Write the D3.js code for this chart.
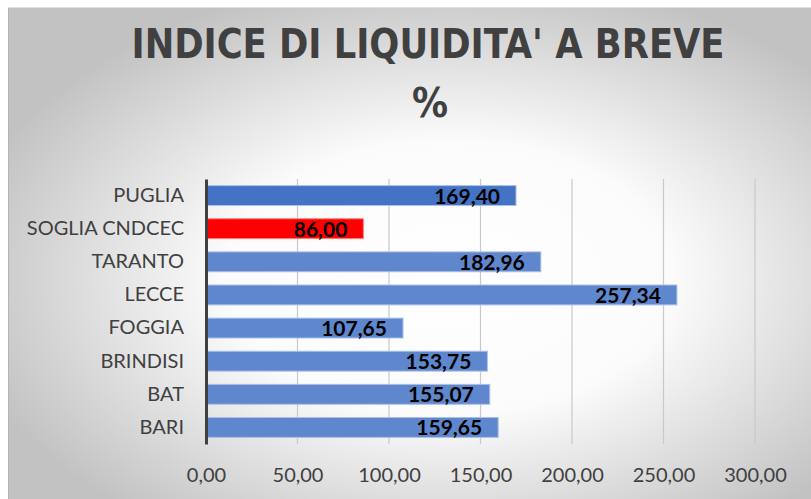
<!DOCTYPE html>
<html>
<head>
<meta charset="utf-8">
<script src="https://cdn.jsdelivr.net/npm/d3@7"></script>
<style>
  body { margin: 0; background: #fff; }
  svg { display: block; }
</style>
</head>
<body>
<svg></svg>
<script>
// data
var categories = ['PUGLIA', 'SOGLIA CNDCEC', 'TARANTO', 'LECCE', 'FOGGIA', 'BRINDISI', 'BAT', 'BARI'];
var values = [169.40, 86.00, 182.96, 257.34, 107.65, 153.75, 155.07, 159.65];
var tickValues = [0, 50, 100, 150, 200, 250, 300];
var titleLines = ["INDICE DI LIQUIDITA' A BREVE", '%'];

var width = 811;
var height = 499;
var svg = d3.select('svg').attr('width', width).attr('height', height);

var fmt = v => d3.format('.2f')(v).replace('.', ',');

// background gradient
var grad = svg.append('defs').append('radialGradient')
    .attr('id', 'bg')
    .attr('cx', '55%').attr('cy', '55%').attr('r', '62%');
grad.append('stop').attr('offset', '0%').attr('stop-color', '#ffffff');
grad.append('stop').attr('offset', '45%').attr('stop-color', '#fbfbfb');
grad.append('stop').attr('offset', '100%').attr('stop-color', '#c2c2c2');

svg.append('rect')
    .attr('x', 8).attr('y', 7)
    .attr('width', width - 8).attr('height', height - 7)
    .attr('fill', 'url(#bg)');
svg.append('line')
    .attr('x1', 8.5).attr('x2', 8.5).attr('y1', 7).attr('y2', height)
    .attr('stroke', '#b4b4b4');
svg.append('line')
    .attr('x1', 8).attr('x2', width).attr('y1', 7.5).attr('y2', 7.5)
    .attr('stroke', '#dedede');

// title
svg.append('text')
    .attr('x', 428).attr('y', 58)
    .attr('text-anchor', 'middle')
    .attr('font-family', 'DejaVu Sans Condensed, DejaVu Sans, sans-serif')
    .attr('font-stretch', 'condensed')
    .attr('font-weight', 'bold')
    .attr('font-size', 41)
    .attr('textLength', 593)
    .attr('lengthAdjust', 'spacingAndGlyphs')
    .attr('fill', '#404040')
    .text(titleLines[0]);

svg.append('text')
    .attr('x', 430).attr('y', 117)
    .attr('text-anchor', 'middle')
    .attr('font-family', 'DejaVu Sans Condensed, DejaVu Sans, sans-serif')
    .attr('font-stretch', 'condensed')
    .attr('font-weight', 'bold')
    .attr('font-size', 40)
    .attr('fill', '#404040')
    .text(titleLines[1]);

// scales
var x = d3.scaleLinear().domain([0, 300]).range([206, 755]);
var y = d3.scaleBand().domain(categories).range([179, 444]).paddingInner(0.4).paddingOuter(0.2);

// gridlines
svg.append('g')
    .selectAll('line')
    .data(tickValues.slice(1))
    .enter().append('line')
        .attr('x1', d => x(d)).attr('x2', d => x(d))
        .attr('y1', 179).attr('y2', 444)
        .attr('stroke', '#c9c9c9')
        .attr('stroke-width', 1.2);

// bars
svg.append('g')
    .selectAll('rect')
    .data(values)
    .enter().append('rect')
        .attr('x', x(0))
        .attr('y', (d, i) => y(categories[i]))
        .attr('width', d => x(d) - x(0))
        .attr('height', y.bandwidth())
        .attr('fill', (d, i) => i === 0 ? '#4472c4' : i === 1 ? '#ff0000' : '#5f87cd')
        .attr('stroke', (d, i) => i === 1 ? '#ff8080' : '#a9c0e8')
        .attr('stroke-width', 1);

// value labels
svg.append('g')
    .selectAll('text')
    .data(values)
    .enter().append('text')
        .attr('x', d => x(d) - 16)
        .attr('y', (d, i) => y(categories[i]) + y.bandwidth() / 2)
        .attr('dy', '0.38em')
        .attr('text-anchor', 'end')
        .attr('font-family', 'Lato, sans-serif')
        .attr('font-weight', 'bold')
        .attr('font-size', 21)
        .attr('fill', '#000')
        .text(d => fmt(d));

// category axis
var yAxis = svg.append('g')
    .attr('transform', `translate(${x(0)},0)`)
    .call(d3.axisLeft(y).tickSize(0).tickPadding(22));
yAxis.select('.domain').attr('stroke', '#404040').attr('stroke-width', 3);
yAxis.selectAll('text')
    .attr('font-family', 'Lato, sans-serif')
    .attr('font-size', 20)
    .attr('fill', '#404040');

// value axis
var xAxis = svg.append('g')
    .attr('transform', 'translate(0,444)')
    .call(d3.axisBottom(x).tickValues(tickValues).tickSize(0).tickPadding(24).tickFormat(fmt));
xAxis.select('.domain').remove();
xAxis.selectAll('text')
    .attr('font-family', 'Lato, sans-serif')
    .attr('font-size', 20)
    .attr('fill', '#404040');
</script>
</body>
</html>
